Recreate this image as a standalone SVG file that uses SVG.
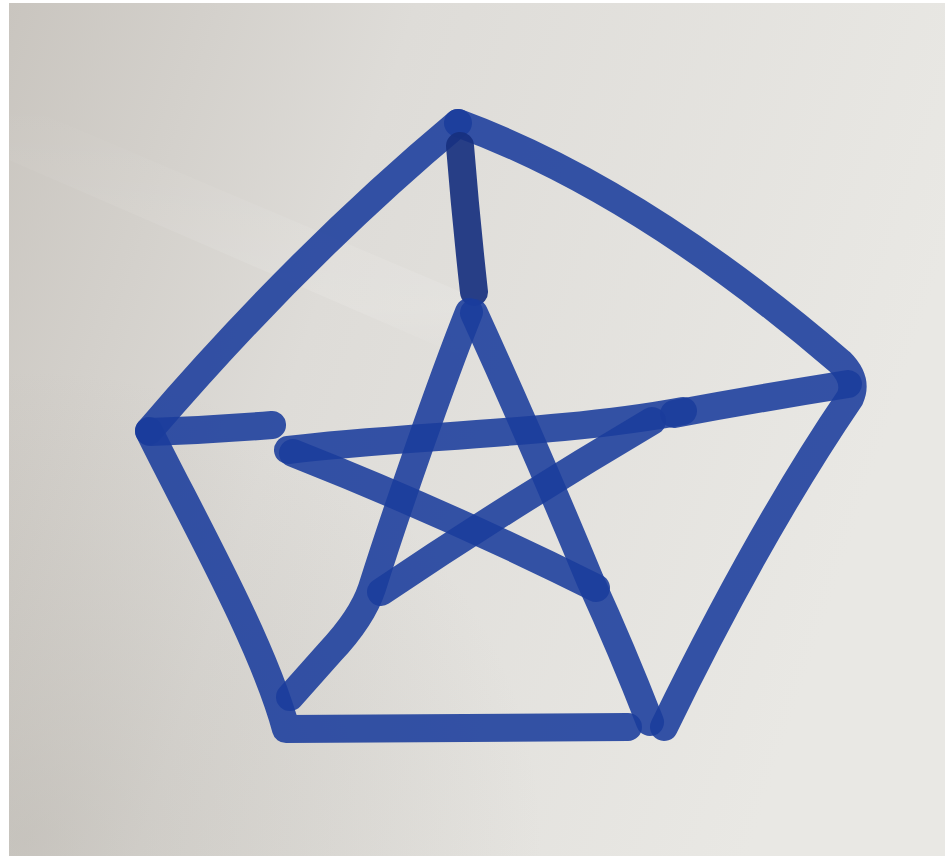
<svg xmlns="http://www.w3.org/2000/svg" width="945" height="856" viewBox="0 0 945 856">
  <defs>
    <linearGradient id="paperGrad" x1="0" y1="0" x2="1" y2="0.3">
      <stop offset="0" stop-color="#c9c5bf"/>
      <stop offset="0.4" stop-color="#dedcd8"/>
      <stop offset="1" stop-color="#e9e8e4"/>
    </linearGradient>
    <linearGradient id="crease" x1="0" y1="0" x2="0" y2="1">
      <stop offset="0" stop-color="#ffffff" stop-opacity="0"/>
      <stop offset="0.8" stop-color="#ffffff" stop-opacity="0.12"/>
      <stop offset="1" stop-color="#ffffff" stop-opacity="0"/>
    </linearGradient>
    <radialGradient id="shadeBL" cx="0.02" cy="0.98" r="0.55">
      <stop offset="0" stop-color="#9e9990" stop-opacity="0.3"/>
      <stop offset="1" stop-color="#9e9990" stop-opacity="0"/>
    </radialGradient>
    <style>
      .ink { fill: none; stroke: #1a3c9c; stroke-opacity: 0.88; stroke-width: 28; stroke-linecap: round; stroke-linejoin: round; }
      .dark { stroke: #17307f; stroke-opacity: 0.92; }
    </style>
  </defs>

  <rect x="0" y="0" width="945" height="856" fill="#ffffff"/>
  <g id="paper">
    <rect x="9" y="3" width="936" height="853" fill="url(#paperGrad)"/>
    <rect x="9" y="3" width="936" height="853" fill="url(#shadeBL)"/>
    <polygon points="9,100 9,160 470,360 480,300" fill="url(#crease)"/>
  </g>

  <g id="connectors">
    <!-- outer pentagon -->
    <path id="outer-top-left" class="ink" d="M458,123 Q300,255 149,431"/>
    <path id="outer-left-bottom" class="ink" d="M149,431 C185,505 262,640 286,729 L628,727"/>
    <path id="outer-top-right" class="ink" d="M458,123 Q640,190 840,362 Q858,380 850,398 Q760,530 664,727"/>
    <!-- spokes -->
    <path id="spoke-top" class="ink dark" d="M460,146 Q466,220 474,292"/>
    <path id="spoke-left" class="ink" d="M150,432 Q210,430 272,425"/>
    <path id="spoke-right" class="ink" d="M674,414 Q760,398 848,384"/>
    <!-- star -->
    <path id="star-left-leg" class="ink" d="M469,312 C440,385 395,515 372,588 Q362,618 330,652 L290,697"/>
    <path id="star-right-leg" class="ink" d="M474,313 Q532,440 590,580 Q622,650 650,722"/>
    <path id="star-horizontal" class="ink" d="M288,450 C400,436 560,434 683,411"/>
    <path id="star-left-to-br" class="ink" d="M293,453 Q450,515 596,588"/>
    <path id="star-right-to-bl" class="ink" d="M381,592 Q510,505 652,421"/>
  </g>
</svg>
